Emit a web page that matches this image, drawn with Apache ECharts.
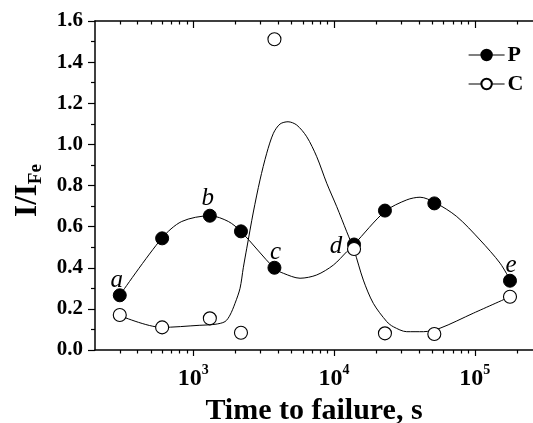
<!DOCTYPE html>
<html><head><meta charset="utf-8">
<script src="https://cdn.jsdelivr.net/npm/echarts@6/dist/echarts.min.js"></script>
<style>html,body{margin:0;padding:0;background:#fff}#c{width:533px;height:423px}</style>
</head><body><div id="c"></div>
<script>
// ---- data ----
var times = [300, 600, 1310, 2180, 3770, 13870, 23000, 51600, 178000];
var pValues = [0.266, 0.543, 0.653, 0.577, 0.400, 0.513, 0.678, 0.713, 0.337];
var cValues = [0.170, 0.110, 0.154, 0.084, 1.511, 0.491, 0.081, 0.078, 0.259];
var pLetters = ['a', '', 'b', '', 'c', 'd', '', '', 'e'];
// fitted curves
var pCurveT = [300, 596, 827, 1314, 1774, 2183, 3767, 4365, 5733, 7534, 9886, 12310, 13870, 23020, 32850, 40860, 52200, 74500, 109100, 151400, 179500];
var pCurveV = [0.266, 0.543, 0.625, 0.653, 0.625, 0.576, 0.397, 0.373, 0.349, 0.365, 0.413, 0.478, 0.513, 0.674, 0.730, 0.743, 0.717, 0.649, 0.535, 0.422, 0.337];
var cCurveT = [293, 596, 1100, 1426, 1679, 1823, 1978, 2147, 2265, 2397, 2670, 2977, 3323, 3706, 4133, 4711, 5430, 6397, 7534, 8872, 10450, 12310, 13870, 16150, 19010, 23700, 26400, 32850, 43150, 56650, 97700, 178300];
var cCurveV = [0.170, 0.110, 0.120, 0.125, 0.138, 0.170, 0.227, 0.300, 0.400, 0.495, 0.671, 0.827, 0.957, 1.054, 1.099, 1.110, 1.094, 1.037, 0.940, 0.811, 0.697, 0.575, 0.486, 0.340, 0.227, 0.138, 0.113, 0.089, 0.089, 0.106, 0.179, 0.259];
var majorTicks = [1000, 10000, 100000];
var minorTicks = [300, 400, 500, 600, 700, 800, 900, 2000, 3000, 4000, 5000, 6000, 7000, 8000, 9000, 20000, 30000, 40000, 50000, 60000, 70000, 80000, 90000, 200000];
var xMin = 200, xMax = 259400;
var yMin = 0, yMax = 1.6, yInterval = 0.2;

// ---- chart ----
var SERIF = '"Liberation Serif","Times New Roman",serif';
function zip(a, b) { return a.map(function (v, i) { return [v, b[i]]; }); }
var letterOffsets = { a: [-3, -15], b: [-2, -17], c: [1, -15], d: [-18, 2], e: [1, -15] };

var chart = echarts.init(document.getElementById('c'), null, { renderer: 'canvas' });
var axLine = { show: true, lineStyle: { color: '#000', width: 1.5 } };
function xAx(pos, ticks, len, inside, showLine, showLabel) {
  return {
    type: 'log', logBase: 10, min: xMin, max: xMax, position: pos, gridIndex: 0,
    axisLine: showLine ? axLine : { show: false },
    axisTick: { show: true, inside: inside, length: len, customValues: ticks, lineStyle: { color: '#000', width: 1.2 } },
    axisLabel: showLabel ? {
      show: true, customValues: majorTicks, margin: 13,
      formatter: function (v) { return '{b|10}{s|' + Math.round(Math.log10(v)) + '}'; },
      rich: {
        b: { fontFamily: SERIF, fontWeight: 'bold', fontSize: 24, lineHeight: 32, color: '#000' },
        s: { fontFamily: SERIF, fontWeight: 'bold', fontSize: 14, lineHeight: 14, verticalAlign: 'top', color: '#000' }
      }
    } : { show: false },
    splitLine: { show: false }, minorTick: { show: false }
  };
}
var xAxes = [
  xAx('bottom', majorTicks, 6, false, true, true),
  xAx('bottom', minorTicks, 3.5, false, false, false),
  xAx('top', majorTicks, 7, true, true, false),
  xAx('top', minorTicks, 3.5, true, false, false)
];
xAxes[0].name = 'Time to failure, s';
xAxes[0].nameLocation = 'middle';
xAxes[0].nameGap = 46;
xAxes[0].nameTextStyle = { fontFamily: SERIF, fontWeight: 'bold', fontSize: 30, color: '#000' };

chart.setOption({
  animation: false,
  backgroundColor: '#fff',
  grid: { left: 95, right: 0, top: 21, bottom: 73, containLabel: false, outerBoundsMode: 'none' },
  xAxis: xAxes,
  yAxis: {
    type: 'value', min: yMin, max: yMax, interval: yInterval,
    name: '{a|I/I}{b|Fe}', nameLocation: 'middle', nameGap: 47, nameRotate: 90,
    nameTextStyle: {
      padding: [0, 10, 0, 0],
      rich: {
        a: { fontFamily: SERIF, fontWeight: 'bold', fontSize: 31, lineHeight: 36, color: '#000' },
        b: { fontFamily: SERIF, fontWeight: 'bold', fontSize: 19, lineHeight: 24, verticalAlign: 'bottom', color: '#000' }
      }
    },
    axisLine: axLine,
    axisTick: { show: true, length: 7, lineStyle: { color: '#000', width: 1.2 } },
    minorTick: { show: true, splitNumber: 2, length: 4, lineStyle: { color: '#000', width: 1.2 } },
    axisLabel: { margin: 12, fontFamily: SERIF, fontWeight: 'bold', fontSize: 21, color: '#000',
      formatter: function (v) { return v.toFixed(1); } },
    splitLine: { show: false }
  },
  legend: {
    data: ['P', 'C'], orient: 'vertical', left: 468, top: 44, padding: 0, itemWidth: 36, itemHeight: 13, itemGap: 7,
    textStyle: { fontFamily: SERIF, fontWeight: 'bold', fontSize: 22, lineHeight: 22, color: '#000', padding: [0, 0, 0, -2] },
    lineStyle: { opacity: 1, width: 1.2, color: '#000' },
    selectedMode: false
  },
  series: [
    { name: 'Pcurve', type: 'line', smooth: 0.3, showSymbol: false, silent: true, data: zip(pCurveT, pCurveV),
      lineStyle: { color: '#000', width: 1 }, z: 2 },
    { name: 'Ccurve', type: 'line', smooth: 0.3, showSymbol: false, silent: true, data: zip(cCurveT, cCurveV),
      lineStyle: { color: '#000', width: 1 }, z: 2 },
    { name: 'P', type: 'line', symbol: 'circle', symbolSize: 13, z: 3,
      itemStyle: { color: '#000', borderColor: '#000', borderWidth: 1 },
      lineStyle: { color: '#000', opacity: 0 },
      data: times.map(function (t, i) {
        var L = pLetters[i];
        return { value: [t, pValues[i]], label: L ? { show: true, position: 'inside', formatter: L, offset: letterOffsets[L],
          fontFamily: SERIF, fontStyle: 'italic', fontSize: 25, color: '#000' } : { show: false } };
      })
    },
    { name: 'C', type: 'line', symbol: 'circle', symbolSize: 13, z: 4,
      itemStyle: { color: '#fff', borderColor: '#000', borderWidth: 1.1 },
      lineStyle: { color: '#000', opacity: 0 },
      data: zip(times, cValues)
    }
  ]
});
</script></body></html>
